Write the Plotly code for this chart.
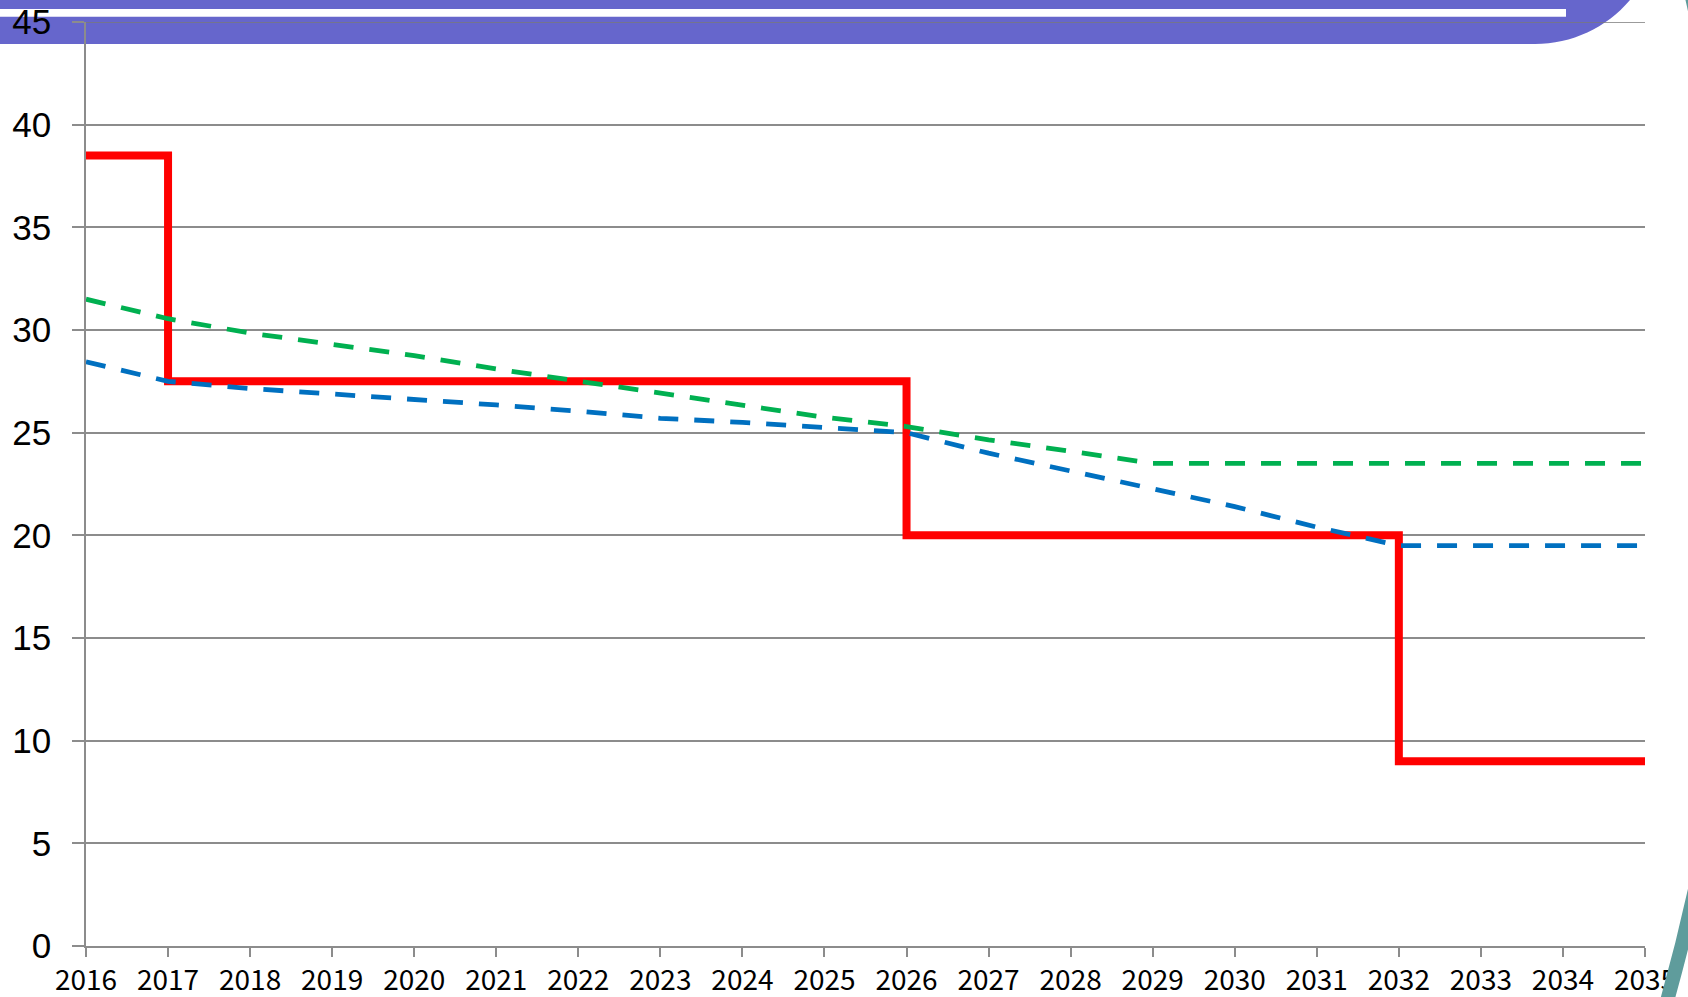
import plotly.graph_objects as go

# ---------------- data ----------------
years = list(range(2016, 2036))
year_labels = [str(y) for y in years]

red_x = [2016, 2017, 2026, 2032, 2035]
red_y = [38.5, 27.5, 20.0, 9.0, 9.0]

green_y = [31.5, 30.55, 29.85, 29.3, 28.75, 28.1, 27.5, 26.9, 26.3, 25.75,
           25.3, 24.65, 24.1, 23.5, 23.5, 23.5, 23.5, 23.5, 23.5, 23.5]

blue_y = [28.45, 27.5, 27.15, 26.9, 26.65, 26.35, 26.05, 25.7, 25.5, 25.25,
          25.0, 24.0, 23.15, 22.3, 21.4, 20.4, 19.5, 19.5, 19.5, 19.5]

y_ticks = list(range(0, 50, 5))
y_max = 45

# ---------------- layout geometry (pixels) ----------------
W, H = 1688, 997
L, R, T, B = 86, 43, 22, 51
PW = W - L - R
PH = H - T - B


def px(x):
    return (x - L) / PW


def py(y):
    return (H - B - y) / PH


GRID = "#8c8c8c"

fig = go.Figure()
fig.add_trace(go.Scatter(x=red_x, y=red_y, mode="lines", line_shape="hv",
                         line=dict(color="#ff0000", width=8), showlegend=False,
                         hoverinfo="skip"))
fig.add_trace(go.Scatter(x=years, y=green_y, mode="lines",
                         line=dict(color="#00b050", width=4.8, dash="20px,16px"),
                         showlegend=False, hoverinfo="skip"))
fig.add_trace(go.Scatter(x=years, y=blue_y, mode="lines",
                         line=dict(color="#0070c0", width=4.8, dash="20px,16px"),
                         showlegend=False, hoverinfo="skip"))

# decorative slide elements
purple_path = (
    f"M {px(-10)} {py(-10)} L {px(1640)} {py(-10)} "
    f"L {px(1630)} {py(0)} "
    f"C {px(1606.3)} {py(27.9)} {px(1571.6)} {py(44)} {px(1535)} {py(44)} "
    f"L {px(-10)} {py(44)} Z"
)
CX, CY, CR = -293, 450, 2036
shapes = [
    dict(type="path", xref="paper", yref="paper", path=purple_path,
         fillcolor="#6666cc", line=dict(width=0), layer="below"),
    dict(type="rect", xref="paper", yref="paper", x0=px(-10), x1=px(1566),
         y0=py(9), y1=py(16.7), fillcolor="#ffffff", line=dict(width=0),
         layer="below"),
    # top gridline (at the edge of the axis range)
    dict(type="line", xref="paper", yref="y", x0=0, x1=1, y0=y_max, y1=y_max,
         line=dict(color="#7a7a7a", width=1.5), layer="below"),
    dict(type="circle", xref="paper", yref="paper",
         x0=px(CX - CR), x1=px(CX + CR),
         y0=py(CY + CR), y1=py(CY - CR),
         line=dict(color="#5f9c9c", width=14), fillcolor="rgba(0,0,0,0)",
         layer="above"),
]

fig.update_layout(
    width=W, height=H,
    margin=dict(l=L, r=R, t=T, b=B, pad=0, autoexpand=False),
    paper_bgcolor="#ffffff",
    plot_bgcolor="rgba(0,0,0,0)",
    shapes=shapes,
    showlegend=False,
    xaxis=dict(range=[2016, 2035], tickvals=years, ticktext=year_labels,
               automargin=False,
               showgrid=False, zeroline=False, showline=True,
               linecolor=GRID, linewidth=1.5, ticks="outside", ticklen=9,
               tickcolor=GRID, tickwidth=1.5,
               tickfont=dict(family="Noto Sans CJK JP", size=28,
                             color="#000000")),
    yaxis=dict(range=[0, y_max], tickvals=y_ticks, showgrid=True,
               automargin=False, ticklabelstandoff=14,
               gridcolor=GRID, gridwidth=1.5, zeroline=False, showline=True,
               linecolor=GRID, linewidth=1.5, ticks="outside", ticklen=12,
               tickcolor=GRID, tickwidth=1.5,
               tickfont=dict(family="Liberation Sans, Arial", size=35,
                             color="#000000")),
)

fig.write_html("out.html", config={"displayModeBar": False},
               post_script="document.body.style.margin='0';"
                           "document.body.style.overflow='hidden';")
